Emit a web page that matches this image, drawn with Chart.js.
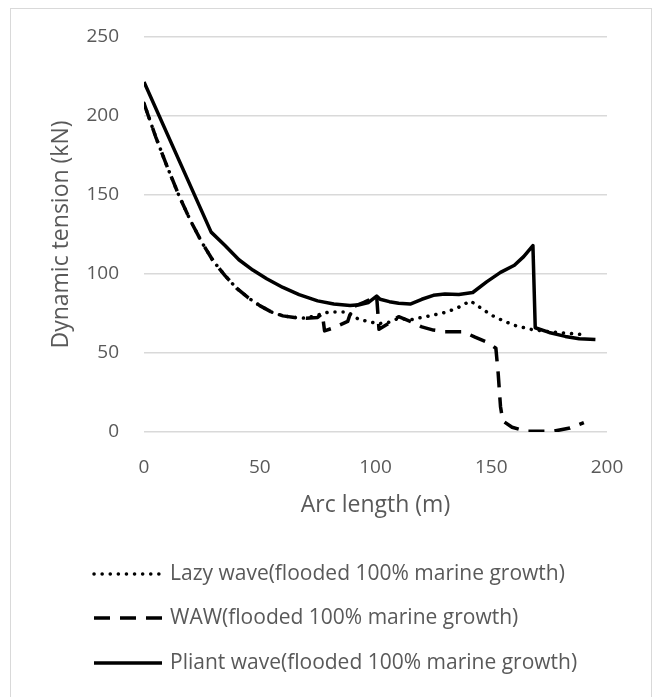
<!DOCTYPE html>
<html>
<head>
<meta charset="utf-8">
<script src="https://cdn.jsdelivr.net/npm/chart.js@4.4.1/dist/chart.umd.min.js"></script>
<style>
  html, body { margin: 0; padding: 0; background: #fff; }
  #wrap { position: relative; width: 656px; height: 697px; }
</style>
</head>
<body>
<div id="wrap"><canvas id="c"></canvas></div>
<script>
// ---- Data ----
const lazyLabel = "Lazy wave(flooded 100% marine growth)";
const wawLabel = "WAW(flooded 100% marine growth)";
const pliantLabel = "Pliant wave(flooded 100% marine growth)";

const lazyX = [0, 5, 10, 15, 20, 25, 30, 35, 40, 45, 50, 55, 60, 65, 70, 75, 80, 85, 88, 90, 93, 97, 101, 106, 110, 115, 120, 125, 131, 136, 141, 145, 150, 155, 160, 167, 175, 183, 191];
const lazyY = [208, 187, 168, 150, 134, 120, 108, 99, 91, 85, 80, 76, 73.5, 72.5, 72, 74, 76, 76, 76, 74, 71, 70, 68.5, 69.5, 72, 71, 72.5, 74, 76, 79, 83, 79, 74, 70.5, 67.5, 65, 63.5, 62.5, 61.5];

const wawX = [0, 5, 10, 15, 20, 25, 30, 35, 40, 45, 50, 55, 60, 65, 70, 75, 77, 78, 82, 88, 90, 95, 100.5, 101.5, 106, 110, 115, 120, 125, 130, 138, 143, 148, 152, 153, 154, 155, 159, 165, 177, 184, 190];
const wawY = [208, 187, 168, 150, 134, 120, 108, 99, 91, 85, 80, 76, 73.5, 72.5, 72, 72.5, 75, 64, 66, 70, 79, 82, 86, 65, 69, 73, 70, 66.5, 64.5, 63.5, 63.5, 60, 57, 53, 37, 16, 7, 3, 0.5, 0.5, 2.5, 6];

const pliantX = [0, 29, 35, 41, 47, 53, 60, 67, 75, 82, 89, 93, 97, 100.5, 102, 106, 110, 115, 120, 125, 130, 136, 142, 148, 154, 160, 164, 168, 169, 175, 182, 188, 195];
const pliantY = [221.5, 126.5, 118, 109, 102.5, 97, 91.5, 87, 83, 81, 80, 80.5, 82, 86, 84, 82.5, 81.5, 81, 84, 86.5, 87.3, 87, 88.3, 95, 101, 105.5, 111, 118, 66, 63, 60.5, 59, 58.5];

const xTicks = [0, 50, 100, 150, 200];
const yTicks = [0, 50, 100, 150, 200, 250];
const xTitle = "Arc length (m)";
const yTitle = "Dynamic tension (kN)";

// ---- Styles ----
const TEXT = '#595959';
const FONT = "'Open Sans', 'Noto Sans', sans-serif";
const toPts = (xs, ys) => xs.map((x, i) => ({ x: x, y: ys[i] }));

const datasets = [
  { label: lazyLabel, data: toPts(lazyX, lazyY), borderColor: '#000', borderWidth: 3.5,
    borderDash: [0.1, 8], borderCapStyle: 'round' },
  { label: wawLabel, data: toPts(wawX, wawY), borderColor: '#000', borderWidth: 3.5,
    borderDash: [16, 10], borderCapStyle: 'butt' },
  { label: pliantLabel, data: toPts(pliantX, pliantY), borderColor: '#000', borderWidth: 3.5,
    borderCapStyle: 'butt' }
];
datasets.forEach(d => { d.showLine = true; d.pointRadius = 0; d.pointHoverRadius = 0; d.tension = 0; d.fill = false; d.borderJoinStyle = 'round'; });

const frameAndLegend = {
  id: 'frameAndLegend',
  beforeDraw(chart) {
    const ctx = chart.ctx;
    ctx.save();
    ctx.fillStyle = '#fff';
    ctx.fillRect(0, 0, chart.width, chart.height);
    ctx.strokeStyle = '#d9d9d9';
    ctx.lineWidth = 1;
    ctx.strokeRect(10.5, 8.5, 641, 700);
    ctx.restore();
  },
  afterDraw(chart) {
    const ctx = chart.ctx;
    const rows = [574, 618, 663];
    ctx.save();
    chart.data.datasets.forEach((ds, i) => {
      const y = rows[i];
      ctx.beginPath();
      ctx.strokeStyle = ds.borderColor;
      ctx.lineWidth = ds.borderWidth;
      ctx.lineCap = ds.borderCapStyle || 'butt';
      ctx.setLineDash(ds.borderDash || []);
      ctx.moveTo(94, y);
      ctx.lineTo(162, y);
      ctx.stroke();
      ctx.setLineDash([]);
      ctx.fillStyle = TEXT;
      ctx.font = "21px " + FONT;
      ctx.textBaseline = 'middle';
      ctx.textAlign = 'left';
      ctx.fillText(ds.label, 170, y);
    });
    ctx.restore();
  }
};

new Chart(document.getElementById('c'), {
  type: 'scatter',
  data: { datasets: datasets },
  options: {
    responsive: true,
    maintainAspectRatio: false,
    devicePixelRatio: 1,
    animation: false,
    events: [],
    layout: { padding: { top: 37, right: 49, left: 0, bottom: 178 } },
    plugins: { legend: { display: false }, tooltip: { enabled: false } },
    scales: {
      x: {
        type: 'linear', min: 0, max: 200,
        afterBuildTicks: s => { s.ticks = xTicks.map(v => ({ value: v })); },
        afterFit: s => { s.height = 87; },
        ticks: { color: TEXT, font: { family: FONT, size: 19 }, padding: 16, maxRotation: 0 },
        grid: { display: false },
        border: { display: false },
        title: { display: true, text: xTitle, color: TEXT, font: { family: FONT, size: 23 }, padding: { top: 0, bottom: 0 } }
      },
      y: {
        type: 'linear', min: 0, max: 250,
        afterBuildTicks: s => { s.ticks = yTicks.map(v => ({ value: v })); },
        afterFit: s => { s.width = 144; },
        ticks: { color: TEXT, font: { family: FONT, size: 19 }, padding: 25 },
        grid: { color: '#d9d9d9', lineWidth: 1.5, drawTicks: false },
        border: { display: false },
        title: { display: true, text: yTitle, color: TEXT, font: { family: FONT, size: 23 }, padding: { top: 48, bottom: 0 } }
      }
    }
  },
  plugins: [frameAndLegend]
});
</script>
</body>
</html>
